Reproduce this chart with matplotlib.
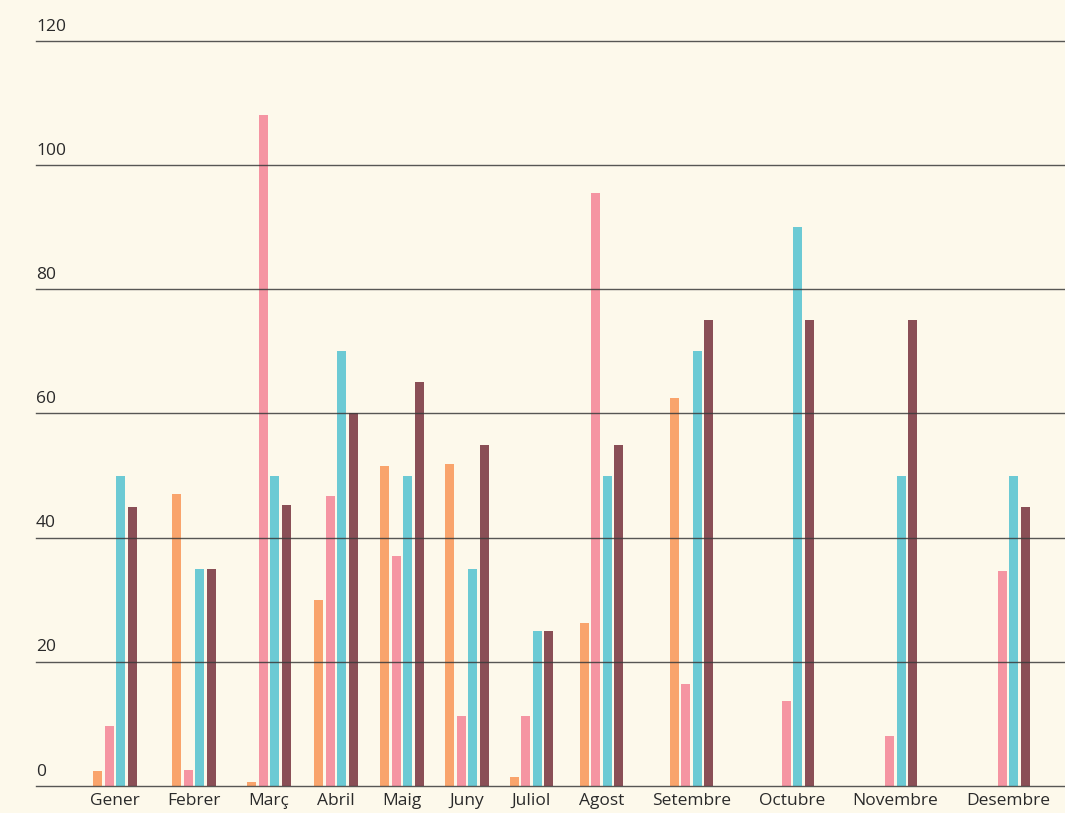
import matplotlib
matplotlib.use("Agg")
import matplotlib.pyplot as plt
import matplotlib.transforms as mtransforms
import numpy as np

MESOS = ["Gener", "Febrer", "Març", "Abril", "Maig", "Juny", "Juliol",
         "Agost", "Setembre", "Octubre", "Novembre", "Desembre"]
SERIE_TARONJA = [2.4, 47, 0.6, 30, 51.5, 51.9, 1.5, 26.2, 62.5, 0, 0, 0]
SERIE_ROSA = [9.7, 2.6, 108, 46.7, 37, 11.3, 11.3, 95.5, 16.4, 13.7, 8, 34.6]
SERIE_BLAU = [50, 35, 50, 70, 50, 35, 25, 50, 70, 90, 50, 50]
SERIE_GRANAT = [45, 35, 45.2, 60, 65, 55, 25, 55, 75, 75, 75, 45]
TICKS_Y = [0, 20, 40, 60, 80, 100, 120]

COLORS = ["#f9a46c", "#f595a2", "#6ccad4", "#8a4f56"]
FONS = "#fdf9eb"
TEXT = "#2a2a2a"
FONT = "Open Sans"
MIDA = 12.5

W, H = 1065, 813
fig = plt.figure(figsize=(W / 100, H / 100), dpi=100, facecolor=FONS)
ax = fig.add_axes([36 / W, 27 / H, 1029 / W, 745 / H], facecolor=FONS)
ax.set_xlim(36, W)
ax.set_ylim(0, 120)

# amplada de cada etiqueta: les categories es reparteixen segons el text
renderer = fig.canvas.get_renderer()
amplades = []
for mes in MESOS:
    t = fig.text(0, 0, mes, fontsize=MIDA, family=FONT)
    amplades.append(t.get_window_extent(renderer).width)
    t.remove()
amplades = np.array(amplades)
inici, fi = 90, 1050
buit = (fi - inici - amplades.sum()) / (len(MESOS) - 1)
centres = inici + np.concatenate([[0], np.cumsum(amplades[:-1] + buit)]) + amplades / 2

pas, amplada = 11.5, 9
series = [SERIE_TARONJA, SERIE_ROSA, SERIE_BLAU, SERIE_GRANAT]
for i, (valors, color) in enumerate(zip(series, COLORS)):
    ax.bar(centres + (i - 1.5) * pas, valors, width=amplada, color=color,
           linewidth=0, zorder=2)

# les linies de la graella es veuen per sobre de les barres
for v in TICKS_Y:
    ax.axhline(v, color="#3a3a3a", linewidth=1, alpha=0.85, zorder=3, clip_on=False)
ax.set_yticks([])
for s in ax.spines.values():
    s.set_visible(False)

trans = mtransforms.blended_transform_factory(ax.transAxes, ax.transData)
trans = mtransforms.offset_copy(trans, fig=fig, x=0, y=7.5, units="points")
for v in TICKS_Y:
    ax.text(0, v, str(v), transform=trans, ha="left", va="baseline",
            fontsize=MIDA, family=FONT, color=TEXT)

ax.set_xticks(centres, MESOS)
ax.tick_params(axis="x", length=0, pad=5, labelsize=MIDA, labelcolor=TEXT)
for lab in ax.get_xticklabels():
    lab.set_family(FONT)

fig.savefig("out.png", dpi=100, facecolor=FONS)
